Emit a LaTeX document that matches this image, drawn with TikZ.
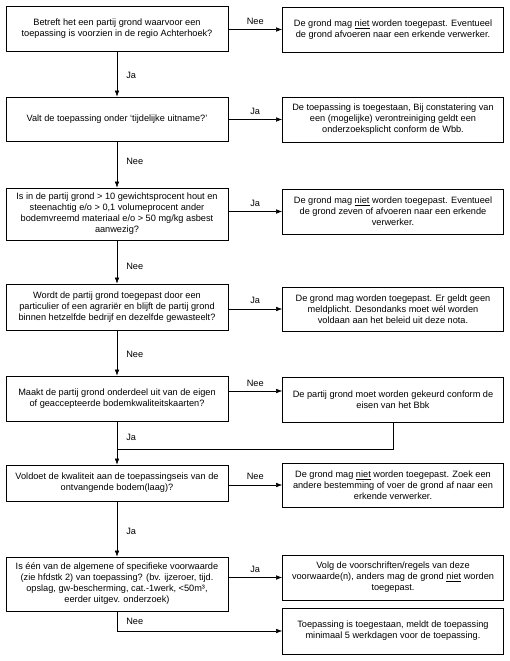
\documentclass[tikz,border=0pt]{standalone}
\usepackage{fontspec}
\setmainfont{Liberation Sans}
\usetikzlibrary{arrows.meta,calc}
\begin{document}
\begin{tikzpicture}[x=1pt,y=-1pt,
  box/.style={draw, line width=0.7pt, align=center, inner sep=0pt,
    font=\fontsize{9.2}{11}\selectfont},
  lft/.style={box, minimum width=222pt},
  rgt/.style={box, minimum width=221pt},
  conn/.style={line width=0.55pt},
  arr/.style={conn, -{Latex[length=6pt,width=4.5pt]}},
  lbl/.style={inner sep=0pt, font=\fontsize{9.2}{11}\selectfont}]
\useasboundingbox (0,0) rectangle (509,661);
% left column
\node[lft, minimum height=45pt] (b1) at (117,28.5) {Betreft het een partij grond waarvoor een\\toepassing is voorzien in de regio Achterhoek?};
\node[lft, minimum height=44pt] (b2) at (117,119) {Valt de toepassing onder `tijdelijke uitname?'};
\node[lft, minimum height=52pt] (b3) at (117,214) {Is in de partij grond > 10 gewichtsprocent hout en\\steenachtig e/o > 0,1 volumeprocent ander\\bodemvreemd materiaal e/o > 50 mg/kg asbest\\aanwezig?};
\node[lft, minimum height=46pt] (b4) at (117,307) {Wordt de partij grond toegepast door een\\particulier of een agrariër en blijft de partij grond\\binnen hetzelfde bedrijf en dezelfde gewasteelt?};
\node[lft, minimum height=45pt] (b5) at (117,398.5) {Maakt de partij grond onderdeel uit van de eigen\\of geaccepteerde bodemkwaliteitskaarten?};
\node[lft, minimum height=36pt] (b6) at (117,483) {Voldoet de kwaliteit aan de toepassingseis van de\\ontvangende bodem(laag)?};
\node[lft, minimum height=54pt] (b7) at (117,584) {Is één van de algemene of specifieke voorwaarde\\(zie hfdstk 2) van toepassing? (bv. ijzeroer, tijd.\\opslag, gw-bescherming, cat.-1werk, <50m³,\\eerder uitgev. onderzoek)};
% right column
\node[rgt, minimum height=45pt] (r1) at (393,29.5) {De grond mag \underline{niet} worden toegepast. Eventueel\\de grond afvoeren naar een erkende verwerker.};
\node[rgt, minimum height=45pt] (r2) at (393,119.5) {De toepassing is toegestaan, Bij constatering van\\een (mogelijke) verontreiniging geldt een\\onderzoeksplicht conform de Wbb.};
\node[rgt, minimum height=45pt] (r3) at (393,211.5) {De grond mag \underline{niet} worden toegepast. Eventueel\\de grond zeven of afvoeren naar een erkende\\verwerker.};
\node[rgt, minimum height=44pt] (r4) at (393,309) {De grond mag worden toegepast. Er geldt geen\\meldplicht. Desondanks moet wél worden\\voldaan aan het beleid uit deze nota.};
\node[rgt, minimum height=45pt] (r5) at (393,399.5) {De partij grond moet worden gekeurd conform de\\eisen van het Bbk};
\node[rgt, minimum height=44pt] (r6) at (393,485) {De grond mag \underline{niet} worden toegepast. Zoek een\\andere bestemming of voer de grond af naar een\\erkende verwerker.};
\node[rgt, minimum height=45pt] (r7) at (393,577.5) {Volg de voorschriften/regels van deze\\voorwaarde(n), anders mag de grond \underline{niet} worden\\toegepast.};
\node[rgt, minimum height=46pt] (r8) at (393,631) {Toepassing is toegestaan, meldt de toepassing\\minimaal 5 werkdagen voor de toepassing.};
\coordinate (j) at (117,449);
% horizontal connectors
\draw[arr] (b1.east |- r1.west) -- node[lbl, above=5pt] {Nee} (r1.west);
\draw[arr] (b2.east |- r2.west) -- node[lbl, above=5pt] {Ja} (r2.west);
\draw[arr] (b3.east |- r3.west) -- node[lbl, above=5pt] {Ja} (r3.west);
\draw[arr] (b4.east |- r4.west) -- node[lbl, above=5pt] {Ja} (r4.west);
\draw[arr] ($(b5.east |- r5.west)+(0,-8.5)$) -- node[lbl, above=4pt] {Nee} ($(r5.west)+(0,-8.5)$);
\draw[arr] (b6.east |- r6.west) -- node[lbl, above=5pt] {Nee} (r6.west);
\draw[arr] (b7.east |- r7.west) -- node[lbl, above=5pt] {Ja} (r7.west);
% vertical connectors
\draw[arr] (b1.south) -- node[lbl, pos=0.52, right=9pt] {Ja} (b2.north);
\draw[arr] (b2.south) -- node[lbl, pos=0.43, right=9pt] {Nee} (b3.north);
\draw[arr] (b3.south) -- node[lbl, pos=0.61, right=9pt] {Nee} (b4.north);
\draw[arr] (b4.south) -- node[lbl, pos=0.54, right=9pt] {Nee} (b5.north);
\draw[arr] (b5.south) -- node[lbl, pos=0.36, right=9pt] {Ja} (b6.north);
\draw[conn] (r5.south) |- (j);
\draw[arr] (b6.south) -- node[lbl, pos=0.55, right=9pt] {Ja} (b7.north);
\draw[arr] (b7.south) |- node[lbl, pos=0.25, right=9pt] {Nee} (r8.west);
\end{tikzpicture}
\end{document}
